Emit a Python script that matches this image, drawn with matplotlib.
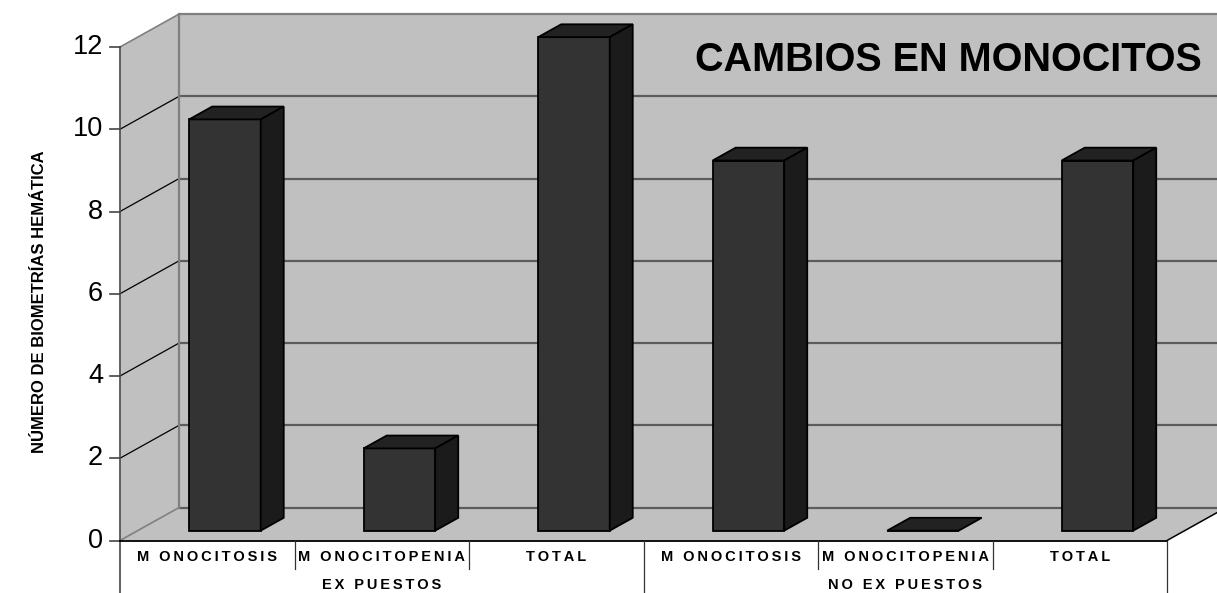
import matplotlib
matplotlib.use("Agg")
import matplotlib.pyplot as plt
from matplotlib.patches import Polygon

# ---- data ----
categories = ["M ONOCITOSIS", "M ONOCITOPENIA", "TOTAL",
              "M ONOCITOSIS", "M ONOCITOPENIA", "TOTAL"]
groups = ["EX PUESTOS", "NO EX PUESTOS"]
group_spans = [(0, 2), (3, 5)]
values = [10, 2, 12, 9, 0, 9]
yticks = [0, 2, 4, 6, 8, 10, 12]
title = "CAMBIOS EN MONOCITOS"
ylabel = "NÚMERO DE BIOMETRÍAS HEMÁTICA"

# ---- pseudo-3D geometry (in data units) ----
YMAX = 12
DX, DY = 0.338, 0.80          # depth offset of the back wall
F0, F1 = 0.30, 0.69           # bar depth span (fraction of full depth)
BAR_W = 0.41
WALL = "#c0c0c0"
FONT = ["Liberation Sans", "DejaVu Sans"]


def spaced(s, sep="\u2009"):
    return sep.join(s)


fig = plt.figure(figsize=(12.17, 5.93), dpi=100)
ax = fig.add_axes([0, 0, 1, 1])
ax.set_xlim(-1.1877, 5.7865)
ax.set_ylim(-1.2766, 13.143)
ax.axis("off")

n = len(values)
x0, x1 = -0.5, n - 0.5

# walls and floor
ax.add_patch(Polygon([(x0, 0), (x0, YMAX), (x0 + DX, YMAX + DY), (x0 + DX, DY)],
                     closed=True, fc=WALL, ec="none", zorder=1))
ax.add_patch(Polygon([(x0 + DX, DY), (x1 + DX, DY), (x1 + DX, YMAX + DY), (x0 + DX, YMAX + DY)],
                     closed=True, fc=WALL, ec="none", zorder=1))
ax.add_patch(Polygon([(x0, 0), (x1, 0), (x1 + DX, DY), (x0 + DX, DY)],
                     closed=True, fc=WALL, ec="none", zorder=1))

# gridlines on back wall and side wall
for v in yticks:
    edge = v in (0, YMAX)
    ax.plot([x0 + DX, x1 + DX], [v + DY, v + DY],
            color="#808080" if v == YMAX else "#5c5c5c", lw=1.6, zorder=2,
            solid_capstyle="butt")
    ax.plot([x0, x0 + DX], [v, v + DY], color="#808080" if edge else "black",
            lw=1.2 if edge else 0.9, zorder=2)
ax.plot([x0 + DX, x0 + DX], [DY, YMAX + DY], color="#808080", lw=1.6, zorder=2)

# front value axis with ticks
ax.plot([x0, x0], [YMAX, -1.2766], color="#555555", lw=1.3, zorder=3)
tick_len = 10 / 174.5
for v in yticks:
    ax.plot([x0 - tick_len, x0], [v, v], color="#444444", lw=1.2, zorder=3)
    ax.text(x0 - 0.098, v, str(v), ha="right", va="center", fontsize=19.5,
            family=FONT, color="black")

# floor edges
ax.plot([x0, x1], [0, 0], color="black", lw=1.3, zorder=3)
ax.plot([x1, x1 + DX], [0, DY], color="black", lw=1.1, zorder=3)

# bars
d = F1 - F0
for i, v in enumerate(values):
    cx = i + F0 * DX
    base = F0 * DY
    left = cx - BAR_W / 2
    right = cx + BAR_W / 2
    ax.bar(cx, v, width=BAR_W, bottom=base, color="#333333",
           edgecolor="black", linewidth=1.3, zorder=5)
    top = base + v
    ax.add_patch(Polygon([(left, top), (right, top), (right + d * DX, top + d * DY),
                          (left + d * DX, top + d * DY)], closed=True,
                         fc="#222222", ec="black", lw=1.3, zorder=6))
    if v > 0:
        ax.add_patch(Polygon([(right, base), (right, top), (right + d * DX, top + d * DY),
                              (right + d * DX, base + d * DY)], closed=True,
                             fc="#1b1b1b", ec="black", lw=1.3, zorder=6))

# category table below the floor
for b in [0.5, 1.5, 3.5, 4.5]:
    ax.plot([b, b], [0, -0.69], color="#333333", lw=0.9, zorder=3)
for b in [2.5, 5.5]:
    ax.plot([b, b], [0, -1.2766], color="#333333", lw=0.9, zorder=3)

for i, c in enumerate(categories):
    ax.text(i, -0.40, spaced(c), ha="center", va="center", fontsize=10.5,
            fontweight="bold", family=FONT)
for g, (a, b) in zip(groups, group_spans):
    ax.text((a + b) / 2, -1.08, spaced(g), ha="center", va="center", fontsize=10.5,
            fontweight="bold", family=FONT)

# title and axis label
fig.text(1202 / 1217, 1 - 60 / 593, title, ha="right", va="center",
         fontsize=28.5, fontweight="bold", family=FONT)
fig.text(40 / 1217, 1 - 302 / 593, ylabel, ha="center", va="center",
         rotation=90, fontsize=12, fontweight="bold",
         family=["Liberation Sans Narrow", "Liberation Sans", "DejaVu Sans"])

fig.savefig("out.png", dpi=100, facecolor="white")
